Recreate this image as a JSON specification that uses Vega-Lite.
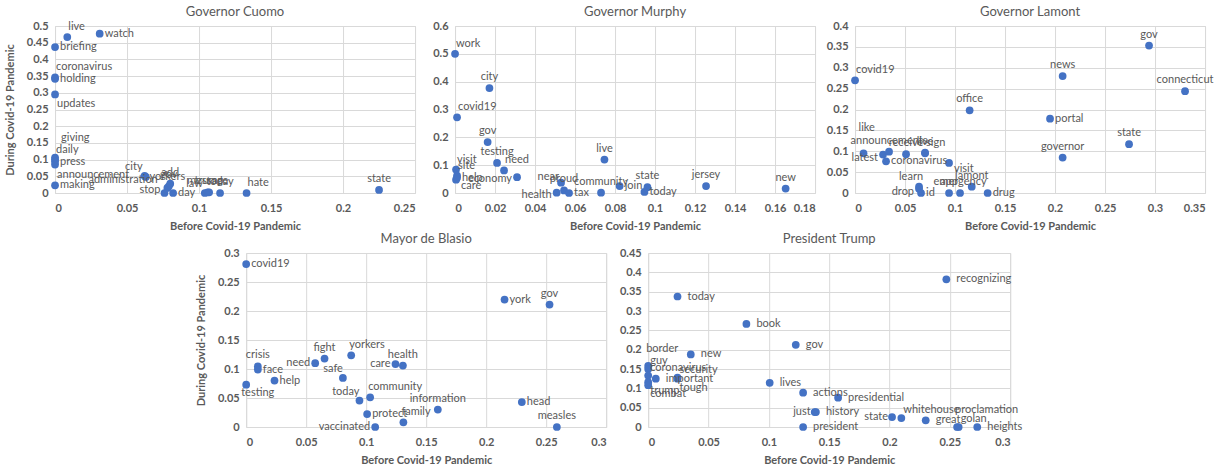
{
"$schema": "https://vega.github.io/schema/vega-lite/v6.json",
"padding": {"left": 3, "top": 5, "right": 0, "bottom": 0},
"background": "white",
"data": {"values": [
{"p":"Cuomo","w":"live","b":0.0085,"d":0.467},
{"p":"Cuomo","w":"watch","b":0.031,"d":0.477},
{"p":"Cuomo","w":"briefing","b":0,"d":0.437},
{"p":"Cuomo","w":"coronavirus","b":0,"d":0.346},
{"p":"Cuomo","w":"holding","b":0,"d":0.342},
{"p":"Cuomo","w":"updates","b":0,"d":0.295},
{"p":"Cuomo","w":"giving","b":0,"d":0.106},
{"p":"Cuomo","w":"daily","b":0,"d":0.1},
{"p":"Cuomo","w":"press","b":0,"d":0.094},
{"p":"Cuomo","w":"announcement","b":0,"d":0.085},
{"p":"Cuomo","w":"making","b":0,"d":0.023},
{"p":"Cuomo","w":"city","b":0.0622,"d":0.051},
{"p":"Cuomo","w":"administration","b":0.063,"d":0.048},
{"p":"Cuomo","w":"gov","b":0.079,"d":0.02},
{"p":"Cuomo","w":"yorkers","b":0.078,"d":0.015},
{"p":"Cuomo","w":"add","b":0.08,"d":0.028},
{"p":"Cuomo","w":"day","b":0.082,"d":0},
{"p":"Cuomo","w":"stop","b":0.076,"d":0},
{"p":"Cuomo","w":"law","b":0.104,"d":0},
{"p":"Cuomo","w":"message","b":0.106,"d":0.002},
{"p":"Cuomo","w":"trump","b":0.107,"d":0.002},
{"p":"Cuomo","w":"today","b":0.1146,"d":0},
{"p":"Cuomo","w":"hate","b":0.133,"d":0},
{"p":"Cuomo","w":"state","b":0.225,"d":0.009},
{"p":"Murphy","w":"work","b":0,"d":0.5},
{"p":"Murphy","w":"city","b":0.0172,"d":0.377},
{"p":"Murphy","w":"covid19","b":0.001,"d":0.272},
{"p":"Murphy","w":"gov","b":0.0163,"d":0.183},
{"p":"Murphy","w":"testing","b":0.021,"d":0.108},
{"p":"Murphy","w":"need","b":0.0245,"d":0.081},
{"p":"Murphy","w":"economy","b":0.031,"d":0.057},
{"p":"Murphy","w":"visit","b":0.0005,"d":0.084},
{"p":"Murphy","w":"site","b":0.001,"d":0.062},
{"p":"Murphy","w":"help","b":0.001,"d":0.055},
{"p":"Murphy","w":"care","b":0.0005,"d":0.048},
{"p":"Murphy","w":"live","b":0.0747,"d":0.12},
{"p":"Murphy","w":"near","b":0.053,"d":0.037},
{"p":"Murphy","w":"proud","b":0.0545,"d":0.009},
{"p":"Murphy","w":"health","b":0.0508,"d":0.001},
{"p":"Murphy","w":"tax","b":0.057,"d":0},
{"p":"Murphy","w":"community","b":0.073,"d":0.001},
{"p":"Murphy","w":"join","b":0.0823,"d":0.025},
{"p":"Murphy","w":"state","b":0.0962,"d":0.021},
{"p":"Murphy","w":"today","b":0.0947,"d":0.004},
{"p":"Murphy","w":"jersey","b":0.1255,"d":0.025},
{"p":"Murphy","w":"new","b":0.1653,"d":0.016},
{"p":"Lamont","w":"covid19","b":0,"d":0.27},
{"p":"Lamont","w":"gov","b":0.294,"d":0.353},
{"p":"Lamont","w":"news","b":0.2076,"d":0.28},
{"p":"Lamont","w":"connecticut","b":0.33,"d":0.244},
{"p":"Lamont","w":"office","b":0.1146,"d":0.198},
{"p":"Lamont","w":"portal","b":0.195,"d":0.178},
{"p":"Lamont","w":"state","b":0.274,"d":0.117},
{"p":"Lamont","w":"governor","b":0.2076,"d":0.085},
{"p":"Lamont","w":"like","b":0.0085,"d":0.095},
{"p":"Lamont","w":"latest","b":0.028,"d":0.092},
{"p":"Lamont","w":"announcements","b":0.034,"d":0.099},
{"p":"Lamont","w":"coronavirus","b":0.031,"d":0.076},
{"p":"Lamont","w":"receive","b":0.051,"d":0.093},
{"p":"Lamont","w":"live","b":0.07,"d":0.095},
{"p":"Lamont","w":"sign","b":0.07,"d":0.097},
{"p":"Lamont","w":"visit","b":0.094,"d":0.072},
{"p":"Lamont","w":"learn","b":0.064,"d":0.015},
{"p":"Lamont","w":"drop","b":0.064,"d":0.01},
{"p":"Lamont","w":"id","b":0.066,"d":0},
{"p":"Lamont","w":"app","b":0.094,"d":0},
{"p":"Lamont","w":"emergency","b":0.105,"d":0},
{"p":"Lamont","w":"lamont","b":0.1167,"d":0.015},
{"p":"Lamont","w":"drug","b":0.1326,"d":0},
{"p":"Blasio","w":"covid19","b":0,"d":0.281},
{"p":"Blasio","w":"york","b":0.2153,"d":0.2197},
{"p":"Blasio","w":"gov","b":0.2528,"d":0.211},
{"p":"Blasio","w":"yorkers","b":0.0875,"d":0.1236},
{"p":"Blasio","w":"fight","b":0.0653,"d":0.118},
{"p":"Blasio","w":"need","b":0.0575,"d":0.11},
{"p":"Blasio","w":"crisis","b":0.0097,"d":0.1045},
{"p":"Blasio","w":"face","b":0.0097,"d":0.099},
{"p":"Blasio","w":"help","b":0.0236,"d":0.08},
{"p":"Blasio","w":"testing","b":0,"d":0.073},
{"p":"Blasio","w":"safe","b":0.0806,"d":0.0845},
{"p":"Blasio","w":"care","b":0.1244,"d":0.1086},
{"p":"Blasio","w":"health","b":0.1306,"d":0.106},
{"p":"Blasio","w":"today","b":0.0944,"d":0.0455},
{"p":"Blasio","w":"community","b":0.1033,"d":0.0512},
{"p":"Blasio","w":"protect","b":0.1008,"d":0.0224},
{"p":"Blasio","w":"vaccinated","b":0.1075,"d":0},
{"p":"Blasio","w":"family","b":0.131,"d":0.008},
{"p":"Blasio","w":"information","b":0.1597,"d":0.03},
{"p":"Blasio","w":"head","b":0.2297,"d":0.043},
{"p":"Blasio","w":"measles","b":0.2589,"d":0},
{"p":"Trump","w":"recognizing","b":0.2471,"d":0.382},
{"p":"Trump","w":"today","b":0.0243,"d":0.3375},
{"p":"Trump","w":"book","b":0.0814,"d":0.2667},
{"p":"Trump","w":"gov","b":0.1223,"d":0.2125},
{"p":"Trump","w":"new","b":0.0353,"d":0.1877},
{"p":"Trump","w":"border","b":0,"d":0.158},
{"p":"Trump","w":"guy","b":0,"d":0.15},
{"p":"Trump","w":"coronavirus","b":0,"d":0.133},
{"p":"Trump","w":"important","b":0.0063,"d":0.125},
{"p":"Trump","w":"trump","b":0,"d":0.116},
{"p":"Trump","w":"combat","b":0,"d":0.108},
{"p":"Trump","w":"security","b":0.0243,"d":0.128},
{"p":"Trump","w":"tough","b":0.0243,"d":0.125},
{"p":"Trump","w":"lives","b":0.1007,"d":0.1144},
{"p":"Trump","w":"actions","b":0.1284,"d":0.0886},
{"p":"Trump","w":"presidential","b":0.1574,"d":0.0757},
{"p":"Trump","w":"just","b":0.138,"d":0.0387},
{"p":"Trump","w":"history","b":0.139,"d":0.0387},
{"p":"Trump","w":"president","b":0.1284,"d":0},
{"p":"Trump","w":"state","b":0.2021,"d":0.0258},
{"p":"Trump","w":"whitehouse","b":0.2098,"d":0.0232},
{"p":"Trump","w":"great","b":0.23,"d":0.0173},
{"p":"Trump","w":"golan","b":0.2573,"d":0},
{"p":"Trump","w":"proclamation","b":0.256,"d":0},
{"p":"Trump","w":"heights","b":0.2727,"d":0}
]},
"vconcat": [
{"hconcat": [
{"title": "Governor Cuomo", "width": 360, "height": 167,
 "transform": [{"filter": "datum.p == 'Cuomo'"}],
 "encoding": {
  "x": {"field": "b", "type": "quantitative", "title": "Before Covid-19 Pandemic", "scale": {"domain": [0, 0.25], "nice": false}, "axis": {"values": [0, 0.05, 0.1, 0.15, 0.2, 0.25], "format": "~g"}},
  "y": {"field": "d", "type": "quantitative", "title": "During Covid-19 Pandemic", "scale": {"domain": [0, 0.5], "nice": false}, "axis": {"values": [0, 0.05, 0.1, 0.15, 0.2, 0.25, 0.3, 0.35, 0.4, 0.45, 0.5], "format": "~g"}}
 },
 "layer": [
  {"mark": {"type": "circle", "size": 60, "color": "#4472C4", "opacity": 1}},
  {"transform": [{"filter": {"field": "w", "oneOf": ["watch", "briefing", "holding", "press", "making", "day"]}}], "mark": {"type": "text", "align": "left", "baseline": "middle", "dx": 5}, "encoding": {"text": {"field": "w"}}},
  {"transform": [{"filter": {"field": "w", "oneOf": ["live", "coronavirus", "daily", "hate"]}}], "mark": {"type": "text", "align": "left", "baseline": "bottom", "dx": 1, "dy": -5}, "encoding": {"text": {"field": "w"}}},
  {"transform": [{"filter": {"field": "w", "oneOf": ["giving"]}}], "mark": {"type": "text", "align": "left", "baseline": "bottom", "dx": 6, "dy": -15}, "encoding": {"text": {"field": "w"}}},
  {"transform": [{"filter": {"field": "w", "oneOf": ["gov", "yorkers", "add", "message", "trump", "today", "state"]}}], "mark": {"type": "text", "align": "center", "baseline": "bottom", "dy": -6}, "encoding": {"text": {"field": "w"}}},
  {"transform": [{"filter": {"field": "w", "oneOf": ["city", "law"]}}], "mark": {"type": "text", "align": "right", "baseline": "bottom", "dx": -2, "dy": -4}, "encoding": {"text": {"field": "w"}}},
  {"transform": [{"filter": {"field": "w", "oneOf": ["stop"]}}], "mark": {"type": "text", "align": "right", "baseline": "middle", "dx": -4, "dy": -3}, "encoding": {"text": {"field": "w"}}},
  {"transform": [{"filter": {"field": "w", "oneOf": ["administration"]}}], "mark": {"type": "text", "align": "right", "baseline": "middle", "dx": 12, "dy": 3}, "encoding": {"text": {"field": "w"}}},
  {"transform": [{"filter": {"field": "w", "oneOf": ["updates", "announcement"]}}], "mark": {"type": "text", "align": "left", "baseline": "top", "dx": 2, "dy": 4}, "encoding": {"text": {"field": "w"}}}
 ]},
{"title": "Governor Murphy", "width": 360, "height": 167,
 "transform": [{"filter": "datum.p == 'Murphy'"}],
 "encoding": {
  "x": {"field": "b", "type": "quantitative", "title": "Before Covid-19 Pandemic", "scale": {"domain": [0, 0.18], "nice": false}, "axis": {"values": [0, 0.02, 0.04, 0.06, 0.08, 0.1, 0.12, 0.14, 0.16, 0.18], "format": "~g"}},
  "y": {"field": "d", "type": "quantitative", "title": null, "scale": {"domain": [0, 0.6], "nice": false}, "axis": {"values": [0, 0.1, 0.2, 0.3, 0.4, 0.5, 0.6], "format": "~g"}}
 },
 "layer": [
  {"mark": {"type": "circle", "size": 60, "color": "#4472C4", "opacity": 1}},
  {"transform": [{"filter": {"field": "w", "oneOf": ["help", "tax", "join", "today"]}}], "mark": {"type": "text", "align": "left", "baseline": "middle", "dx": 5}, "encoding": {"text": {"field": "w"}}},
  {"transform": [{"filter": {"field": "w", "oneOf": ["work", "covid19", "need", "visit", "site"]}}], "mark": {"type": "text", "align": "left", "baseline": "bottom", "dx": 1, "dy": -5}, "encoding": {"text": {"field": "w"}}},
  {"transform": [{"filter": {"field": "w", "oneOf": ["city", "gov", "testing", "live", "proud", "community", "state", "jersey", "new"]}}], "mark": {"type": "text", "align": "center", "baseline": "bottom", "dy": -6}, "encoding": {"text": {"field": "w"}}},
  {"transform": [{"filter": {"field": "w", "oneOf": ["near"]}}], "mark": {"type": "text", "align": "right", "baseline": "bottom", "dx": -2, "dy": -1}, "encoding": {"text": {"field": "w"}}},
  {"transform": [{"filter": {"field": "w", "oneOf": ["economy", "health"]}}], "mark": {"type": "text", "align": "right", "baseline": "middle", "dx": -5, "dy": 2}, "encoding": {"text": {"field": "w"}}},
  {"transform": [{"filter": {"field": "w", "oneOf": ["care"]}}], "mark": {"type": "text", "align": "left", "baseline": "top", "dx": 5, "dy": 0}, "encoding": {"text": {"field": "w"}}}
 ]},
{"title": "Governor Lamont", "width": 350, "height": 167,
 "transform": [{"filter": "datum.p == 'Lamont'"}],
 "encoding": {
  "x": {"field": "b", "type": "quantitative", "title": "Before Covid-19 Pandemic", "scale": {"domain": [0, 0.35], "nice": false}, "axis": {"values": [0, 0.05, 0.1, 0.15, 0.2, 0.25, 0.3, 0.35], "format": "~g"}},
  "y": {"field": "d", "type": "quantitative", "title": null, "scale": {"domain": [0, 0.4], "nice": false}, "axis": {"values": [0, 0.05, 0.1, 0.15, 0.2, 0.25, 0.3, 0.35, 0.4], "format": "~g"}}
 },
 "layer": [
  {"mark": {"type": "circle", "size": 60, "color": "#4472C4", "opacity": 1}},
  {"transform": [{"filter": {"field": "w", "oneOf": ["portal", "coronavirus", "id", "drug"]}}], "mark": {"type": "text", "align": "left", "baseline": "middle", "dx": 5}, "encoding": {"text": {"field": "w"}}},
  {"transform": [{"filter": {"field": "w", "oneOf": ["covid19", "sign"]}}], "mark": {"type": "text", "align": "left", "baseline": "bottom", "dx": 1, "dy": -5}, "encoding": {"text": {"field": "w"}}},
  {"transform": [{"filter": {"field": "w", "oneOf": ["like"]}}], "mark": {"type": "text", "align": "left", "baseline": "bottom", "dx": -5, "dy": -20}, "encoding": {"text": {"field": "w"}}},
  {"transform": [{"filter": {"field": "w", "oneOf": ["gov", "news", "connecticut", "office", "state", "governor", "announcements", "receive", "live", "app", "emergency", "lamont"]}}], "mark": {"type": "text", "align": "center", "baseline": "bottom", "dy": -6}, "encoding": {"text": {"field": "w"}}},
  {"transform": [{"filter": {"field": "w", "oneOf": ["learn"]}}], "mark": {"type": "text", "align": "right", "baseline": "bottom", "dx": 4, "dy": -5}, "encoding": {"text": {"field": "w"}}},
  {"transform": [{"filter": {"field": "w", "oneOf": ["latest", "drop"]}}], "mark": {"type": "text", "align": "right", "baseline": "middle", "dx": -5, "dy": 3}, "encoding": {"text": {"field": "w"}}},
  {"transform": [{"filter": {"field": "w", "oneOf": ["visit"]}}], "mark": {"type": "text", "align": "left", "baseline": "top", "dx": 5, "dy": 0}, "encoding": {"text": {"field": "w"}}}
 ]}
], "bounds": "flush", "spacing": 40},
{"hconcat": [
{"title": "Mayor de Blasio", "width": 360, "height": 174,
 "transform": [{"filter": "datum.p == 'Blasio'"}],
 "encoding": {
  "x": {"field": "b", "type": "quantitative", "title": "Before Covid-19 Pandemic", "scale": {"domain": [0, 0.3], "nice": false}, "axis": {"values": [0, 0.05, 0.1, 0.15, 0.2, 0.25, 0.3], "format": "~g"}},
  "y": {"field": "d", "type": "quantitative", "title": "During Covid-19 Pandemic", "scale": {"domain": [0, 0.3], "nice": false}, "axis": {"values": [0, 0.05, 0.1, 0.15, 0.2, 0.25, 0.3], "format": "~g"}}
 },
 "layer": [
  {"mark": {"type": "circle", "size": 60, "color": "#4472C4", "opacity": 1}},
  {"transform": [{"filter": {"field": "w", "oneOf": ["covid19", "york", "face", "help", "protect", "head"]}}], "mark": {"type": "text", "align": "left", "baseline": "middle", "dx": 5}, "encoding": {"text": {"field": "w"}}},
  {"transform": [{"filter": {"field": "w", "oneOf": ["yorkers", "community", "family"]}}], "mark": {"type": "text", "align": "left", "baseline": "bottom", "dx": -2, "dy": -5}, "encoding": {"text": {"field": "w"}}},
  {"transform": [{"filter": {"field": "w", "oneOf": ["gov", "fight", "crisis", "health", "information", "measles"]}}], "mark": {"type": "text", "align": "center", "baseline": "bottom", "dy": -6}, "encoding": {"text": {"field": "w"}}},
  {"transform": [{"filter": {"field": "w", "oneOf": ["safe", "today"]}}], "mark": {"type": "text", "align": "right", "baseline": "bottom", "dx": 0, "dy": -4}, "encoding": {"text": {"field": "w"}}},
  {"transform": [{"filter": {"field": "w", "oneOf": ["need", "care", "vaccinated"]}}], "mark": {"type": "text", "align": "right", "baseline": "middle", "dx": -5}, "encoding": {"text": {"field": "w"}}},
  {"transform": [{"filter": {"field": "w", "oneOf": ["testing"]}}], "mark": {"type": "text", "align": "left", "baseline": "top", "dx": -5, "dy": 2}, "encoding": {"text": {"field": "w"}}}
 ]},
{"title": "President Trump", "width": 362, "height": 174,
 "transform": [{"filter": "datum.p == 'Trump'"}],
 "encoding": {
  "x": {"field": "b", "type": "quantitative", "title": "Before Covid-19 Pandemic", "scale": {"domain": [0, 0.3], "nice": false}, "axis": {"values": [0, 0.05, 0.1, 0.15, 0.2, 0.25, 0.3], "format": "~g"}},
  "y": {"field": "d", "type": "quantitative", "title": null, "scale": {"domain": [0, 0.45], "nice": false}, "axis": {"values": [0, 0.05, 0.1, 0.15, 0.2, 0.25, 0.3, 0.35, 0.4, 0.45], "format": "~g"}}
 },
 "layer": [
  {"mark": {"type": "circle", "size": 60, "color": "#4472C4", "opacity": 1}},
  {"transform": [{"filter": {"field": "w", "oneOf": ["recognizing", "today", "book", "gov", "new", "important", "lives", "actions", "presidential", "history", "president", "great", "heights"]}}], "mark": {"type": "text", "align": "left", "baseline": "middle", "dx": 10}, "encoding": {"text": {"field": "w"}}},
  {"transform": [{"filter": {"field": "w", "oneOf": ["guy", "coronavirus", "security", "whitehouse", "golan"]}}], "mark": {"type": "text", "align": "left", "baseline": "bottom", "dx": 2, "dy": -3}, "encoding": {"text": {"field": "w"}}},
  {"transform": [{"filter": {"field": "w", "oneOf": ["proclamation", "border"]}}], "mark": {"type": "text", "align": "left", "baseline": "bottom", "dx": -2, "dy": -12}, "encoding": {"text": {"field": "w"}}},
  {"transform": [{"filter": {"field": "w", "oneOf": ["just", "state"]}}], "mark": {"type": "text", "align": "right", "baseline": "middle", "dx": -4}, "encoding": {"text": {"field": "w"}}},
  {"transform": [{"filter": {"field": "w", "oneOf": ["trump", "combat", "tough"]}}], "mark": {"type": "text", "align": "left", "baseline": "top", "dx": 2, "dy": 3}, "encoding": {"text": {"field": "w"}}}
 ]}
], "bounds": "flush", "spacing": 42}
],
"center": true,
"spacing": 0,
"config": {
 "font": "Lato",
 "view": {"stroke": "#D9D9D9"},
 "axis": {"grid": true, "gridColor": "#D9D9D9", "domain": false, "ticks": false, "labelFont": "Lato", "labelFontWeight": "bold", "labelColor": "#595959", "labelFontSize": 11, "titleFont": "Lato", "titleFontSize": 11, "titleFontWeight": "bold", "titleColor": "#595959"},
 "axisX": {"labelPadding": 9, "titlePadding": 7},
 "axisY": {"labelPadding": 7, "titlePadding": 11},
 "title": {"font": "Lato", "fontSize": 13, "fontWeight": "normal", "color": "#595959", "offset": 1},
 "text": {"font": "Lato", "fontSize": 11, "color": "#595959"}
}
}
